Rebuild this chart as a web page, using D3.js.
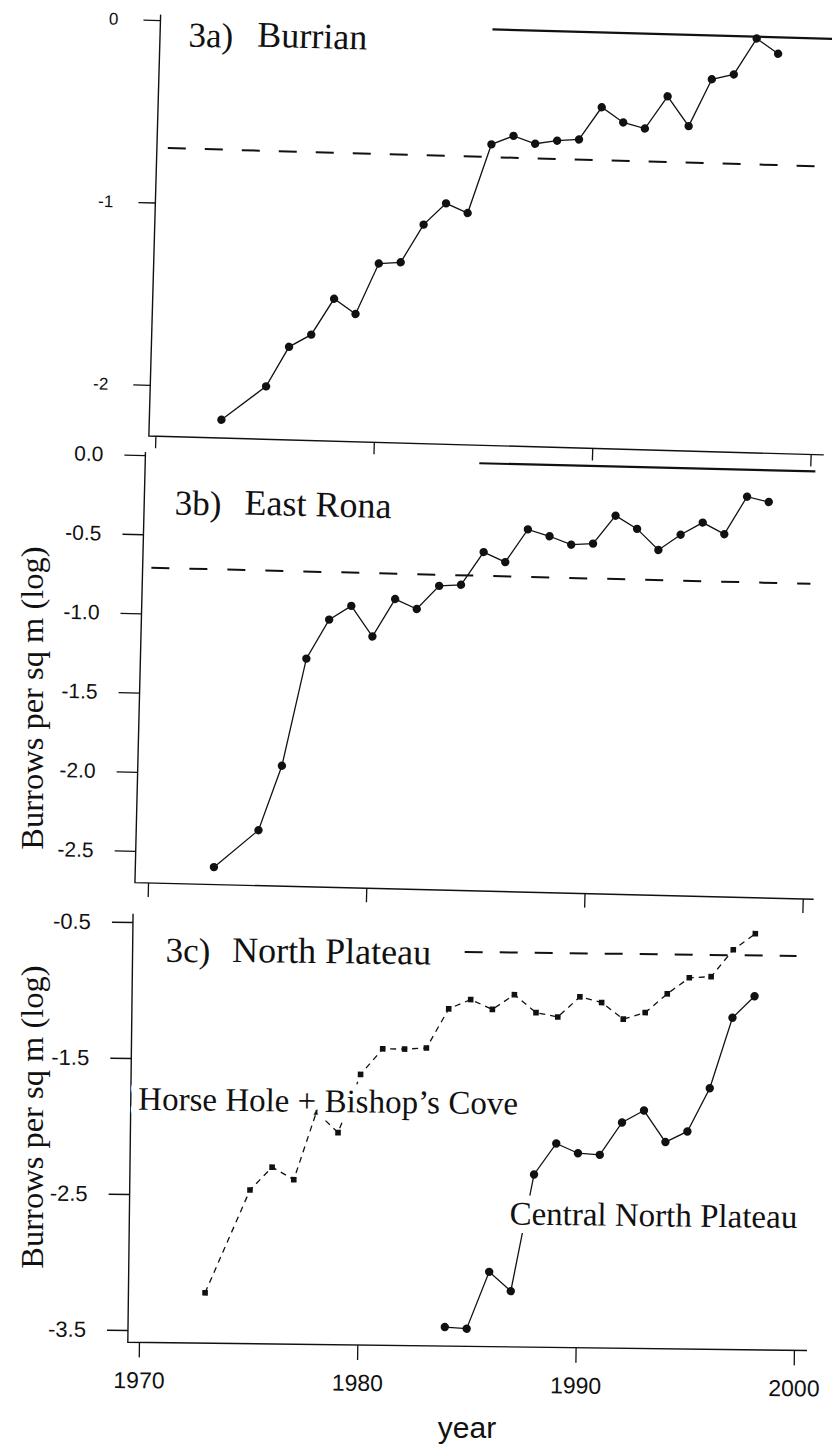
<!DOCTYPE html>
<html>
<head>
<meta charset="utf-8">
<script src="https://cdn.jsdelivr.net/npm/d3@7"></script>
<style>
  body { margin: 0; background: #fff; }
  svg { display: block; }
  .serif { font-family: "Liberation Serif", "Times New Roman", serif; fill: #111; }
  .sans { font-family: "Liberation Sans", Arial, sans-serif; fill: #111; }
</style>
</head>
<body>
<div id="chart"></div>
<script>
// log10 burrow density per year
const islandYears = [1973, 1975, 1976, 1977, 1978, 1979, 1980, 1981, 1982, 1983, 1984, 1985,
  1986, 1987, 1988, 1989, 1990, 1991, 1992, 1993, 1994, 1995, 1996, 1997, 1998];
const burrianValues = [-2.18, -1.99, -1.77, -1.70, -1.50, -1.58, -1.30, -1.29, -1.08, -0.96, -1.01, -0.63,
  -0.58, -0.62, -0.60, -0.59, -0.41, -0.49, -0.52, -0.34, -0.50, -0.24, -0.21, -0.01, -0.09];
const eastRonaValues = [-2.59, -2.35, -1.94, -1.26, -1.01, -0.92, -1.11, -0.87, -0.93, -0.78, -0.77, -0.56,
  -0.62, -0.41, -0.45, -0.50, -0.49, -0.31, -0.39, -0.52, -0.42, -0.34, -0.41, -0.17, -0.20];

const horseHoleYears = [1973, 1975, 1976, 1977, 1978, 1979, 1980, 1981, 1982, 1983, 1984, 1985,
  1986, 1987, 1988, 1989, 1990, 1991, 1992, 1993, 1994, 1995, 1996, 1997, 1998];
const horseHoleValues = [-3.22, -2.46, -2.29, -2.38, -1.88, -2.03, -1.60, -1.41, -1.41, -1.40, -1.11, -1.04,
  -1.11, -1.00, -1.13, -1.16, -1.01, -1.05, -1.17, -1.12, -0.98, -0.86, -0.85, -0.65, -0.53];
const centralYears = [1984, 1985, 1986, 1987, 1988, 1989, 1990, 1991, 1992, 1993, 1994, 1995, 1996, 1997, 1998];
const centralValues = [-3.45, -3.46, -3.04, -3.18, -2.32, -2.09, -2.16, -2.17, -1.93, -1.84, -2.07, -1.99,
  -1.67, -1.15, -0.99];

// reference levels: [year, value] end points
const burrianSolid = [[1984.9, 0], [2000.6, 0]];
const burrianDashed = [[1970.2, -0.70], [2000.2, -0.70]];
const eastRonaSolid = [[1984.7, 0], [2000.1, 0]];
const eastRonaDashed = [[1969.8, -0.71], [2000.0, -0.71]];
const plateauDashed = [[1984.7, -0.69], [1999.9, -0.69]];

const decadeTicks = [1970, 1980, 1990, 2000];
const burrianTicks = [0, -1, -2];
const eastRonaTicks = [0, -0.5, -1, -1.5, -2, -2.5];
const plateauTicks = [-0.5, -1.5, -2.5, -3.5];

const zip = (xs, ys) => xs.map((d, i) => [d, ys[i]]);

const sans = '"Liberation Sans", Arial, sans-serif';
const ink = '#111';

// each scanned panel sits slightly rotated on the page
const panels = [
  {
    angle: 1.6, pivot: [155, 200],
    xRange: [162, 817.5], yDomain: [0, -2], yRange: [20, 385],
    xExtent: [1969.7, 2000.6], yExtent: [-2.28, 0.03],
    yTicks: burrianTicks, yFormat: d => String(d), yFont: 17, yTickLen: 17, yPad: 25,
    xTickLen: 12, xLabels: false,
    refs: [{pts: burrianSolid, dash: null, w: 2.2}, {pts: burrianDashed, dash: '18,19', w: 2}],
    series: [{pts: zip(islandYears, burrianValues), dash: null, marker: 'circle'}],
    texts: [
      {t: '3a)', at: [1971.0, -0.14], size: 35},
      {t: 'Burrian', at: [1974.15, -0.13], size: 36}
    ]
  },
  {
    angle: 1.4, pivot: [140, 614],
    xRange: [154.6, 809.5], yDomain: [0, -2.5], yRange: [455, 851],
    xExtent: [1969.4, 2000.5], yExtent: [-2.70, 0.02],
    yTicks: eastRonaTicks, yFormat: d => d.toFixed(1), yFont: 21, yTickLen: 21, yPad: 21,
    xTickLen: 14, xLabels: false,
    refs: [{pts: eastRonaSolid, dash: null, w: 2.2}, {pts: eastRonaDashed, dash: '18,20', w: 2}],
    series: [{pts: zip(islandYears, eastRonaValues), dash: null, marker: 'circle'}],
    texts: [
      {t: '3b)', at: [1970.8, -0.37], size: 35},
      {t: 'East Rona', at: [1974.0, -0.36], size: 36}
    ]
  },
  {
    angle: 0.7, pivot: [130, 1126],
    xRange: [141.6, 796.6], yDomain: [-0.5, -3.5], yRange: [922, 1330],
    xExtent: [1969.49, 2000.6], yExtent: [-3.59, -0.44],
    yTicks: plateauTicks, yFormat: d => d.toFixed(1), yFont: 22, yTickLen: 21, yPad: 21,
    xTickLen: 15, xLabels: true, xFont: 23, xPad: 14.5,
    refs: [{pts: plateauDashed, dash: '18,17', w: 2}],
    series: [
      {pts: zip(horseHoleYears, horseHoleValues), dash: '6,5', marker: 'square'},
      {pts: zip(centralYears, centralValues), dash: null, marker: 'circle'}
    ],
    texts: [
      {t: '3c)', at: [1971.0, -0.79], size: 35},
      {t: 'North Plateau', at: [1974.05, -0.785], size: 36},
      {t: 'Horse Hole + Bishop\u2019s Cove', at: [1969.83, -1.88], size: 33, halo: true},
      {t: 'Central North Plateau', at: [1986.9, -2.69], size: 33, halo: true}
    ]
  }
];

const svg = d3.select('#chart').append('svg')
    .attr('width', 832)
    .attr('height', 1445);

panels.forEach(p => {
  const g = svg.append('g')
      .attr('transform', `rotate(${p.angle},${p.pivot[0]},${p.pivot[1]})`);

  const x = d3.scaleLinear().domain([1970, 2000]).range(p.xRange);
  const y = d3.scaleLinear().domain(p.yDomain).range(p.yRange);
  const line = d3.line().x(d => x(d[0])).y(d => y(d[1]));

  const left = x(p.xExtent[0]), right = x(p.xExtent[1]);
  const top = y(p.yExtent[1]), bottom = y(p.yExtent[0]);

  // L-shaped frame
  g.append('path')
      .attr('d', `M${left},${top}V${bottom}H${right}`)
      .attr('fill', 'none')
      .attr('stroke', ink)
      .attr('stroke-width', 1.4);

  const yAxis = g.append('g')
      .attr('transform', `translate(${left},0)`)
      .call(d3.axisLeft(y).tickValues(p.yTicks).tickFormat(p.yFormat)
        .tickSize(p.yTickLen).tickPadding(p.yPad));
  yAxis.select('.domain').remove();
  yAxis.attr('font-size', p.yFont).attr('font-family', sans);
  yAxis.selectAll('line').attr('stroke', ink).attr('stroke-width', 1.3);
  yAxis.selectAll('text').attr('fill', ink);

  const xAxis = g.append('g')
      .attr('transform', `translate(0,${bottom})`)
      .call(d3.axisBottom(x).tickValues(decadeTicks)
        .tickFormat(p.xLabels ? d3.format('d') : () => '')
        .tickSize(p.xTickLen).tickPadding(p.xPad || 3));
  xAxis.select('.domain').remove();
  xAxis.attr('font-size', p.xFont || 10).attr('font-family', sans);
  xAxis.selectAll('line').attr('stroke', ink).attr('stroke-width', 1.3);
  xAxis.selectAll('text').attr('fill', ink);

  p.refs.forEach(r => {
    g.append('path')
        .datum(r.pts)
        .attr('d', line)
        .attr('fill', 'none')
        .attr('stroke', ink)
        .attr('stroke-width', r.w)
        .attr('stroke-dasharray', r.dash);
  });

  p.series.forEach(s => {
    g.append('path')
        .datum(s.pts)
        .attr('d', line)
        .attr('fill', 'none')
        .attr('stroke', ink)
        .attr('stroke-width', 1.3)
        .attr('stroke-dasharray', s.dash);

    if (s.marker === 'circle') {
      g.selectAll(null)
          .data(s.pts)
        .join('circle')
          .attr('cx', d => x(d[0]))
          .attr('cy', d => y(d[1]))
          .attr('r', 4.2)
          .attr('fill', ink);
    } else {
      g.selectAll(null)
          .data(s.pts)
        .join('rect')
          .attr('x', d => x(d[0]) - 2.8)
          .attr('y', d => y(d[1]) - 2.8)
          .attr('width', 5.6)
          .attr('height', 5.6)
          .attr('fill', ink);
    }
  });

  p.texts.forEach(t => {
    const txt = g.append('text')
        .attr('class', 'serif')
        .attr('x', x(t.at[0]))
        .attr('y', y(t.at[1]))
        .attr('font-size', t.size)
        .text(t.t);
    if (t.halo) {
      txt.attr('stroke', '#fff')
         .attr('stroke-width', 16)
         .attr('stroke-linejoin', 'round')
         .attr('paint-order', 'stroke');
    }
  });
});

// shared axis titles
[698, 1117].forEach(cy => {
  svg.append('text')
      .attr('class', 'serif')
      .attr('transform', `translate(43,${cy}) rotate(-90)`)
      .attr('text-anchor', 'middle')
      .attr('font-size', 32.5)
      .text('Burrows per sq m (log)');
});

svg.append('text')
    .attr('class', 'sans')
    .attr('x', 467)
    .attr('y', 1438)
    .attr('text-anchor', 'middle')
    .attr('font-size', 30)
    .text('year');
</script>
</body>
</html>
